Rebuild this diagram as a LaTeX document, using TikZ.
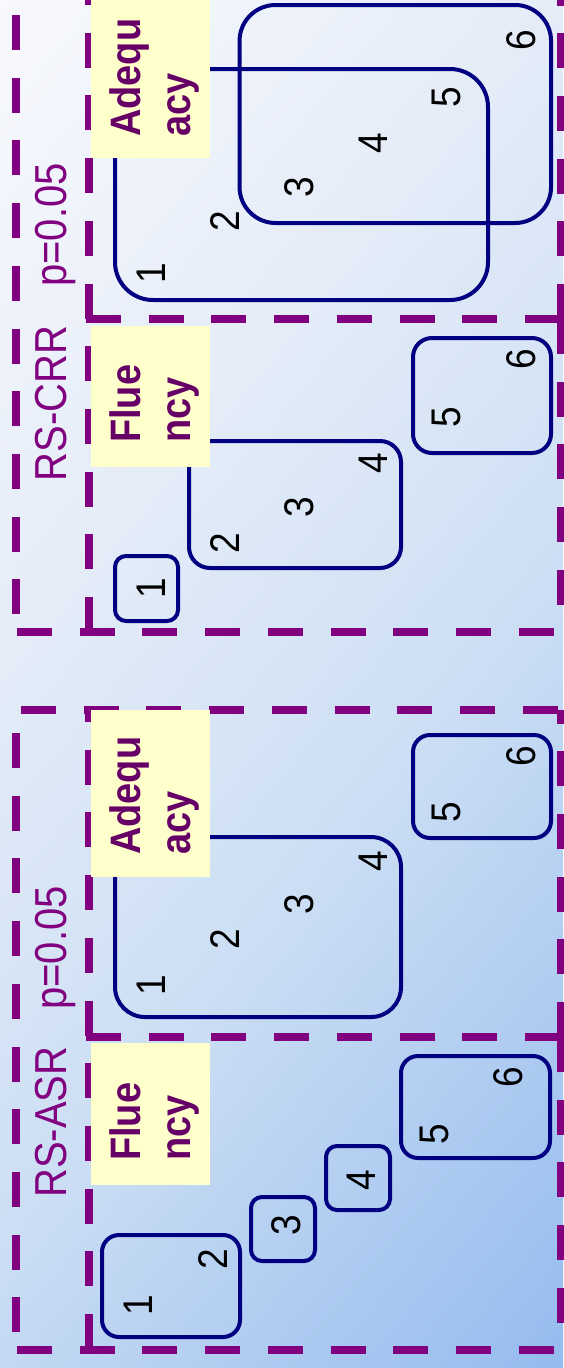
\documentclass[tikz,border=0pt]{standalone}
\usepackage{fontspec}
\setmainfont{Liberation Sans}
\definecolor{dpurple}{HTML}{800080}
\definecolor{tpurple}{HTML}{660066}
\definecolor{boxblue}{HTML}{000080}
\definecolor{ylw}{HTML}{FFFFCC}
\definecolor{bgA}{HTML}{F8F9FD}
\definecolor{bgB}{HTML}{E4ECF8}
\definecolor{bgC}{HTML}{CDDFF4}
\definecolor{bgD}{HTML}{94BBEE}
\pgfdeclarehorizontalshading{bgshade}{1600bp}{color(0bp)=(bgA); color(145bp)=(bgA); color(577bp)=(bgB); color(932bp)=(bgC); color(1455bp)=(bgD); color(1600bp)=(bgD)}
\begin{document}
\begin{tikzpicture}[x=1pt,y=-1pt,
  dline/.style={draw=dpurple, line width=7.5pt, dash pattern=on 35pt off 27.7pt},
  rbox/.style={draw=boxblue, line width=4pt, inner sep=0pt, rectangle},
  num/.style={font=\fontsize{37}{44}\selectfont, text=black, rotate=90, yscale=1.12, inner sep=0pt},
  grp/.style={font=\fontsize{40}{48}\selectfont, text=dpurple, rotate=90, yscale=1.12, inner sep=0pt, anchor=base},
  ybox/.style={fill=ylw, inner sep=0pt, minimum width=119.5pt},
  ytext/.style={font=\bfseries\fontsize{38}{44}\selectfont, text=tpurple, rotate=90, yscale=1.12, inner sep=0pt, align=left, anchor=base west}
]
\useasboundingbox (0,0) rectangle (563,1368);
\begin{scope}
\clip (0,0) rectangle (563,1368);
\node[inner sep=0pt, rotate=-40] (bg) at (281.5,684) {\pgfuseshading{bgshade}};
\end{scope}

% dashed frames, upper group (RS-CRR)
\draw[dline] (16,15) -- (16,632);
\draw[dline] (17,632) -- (561,632);
\draw[dline] (89,-30) -- (89,632);
\draw[dline] (86,319) -- (561,319);
\draw[dline] (561,319) -- (561,-40);
\draw[dline] (561,319) -- (561,632);

% dashed frames, lower group (RS-ASR)
\draw[dline] (21,710) -- (561,710);
\draw[dline] (16,733) -- (16,1350);
\draw[dline] (17,1350) -- (561,1350);
\draw[dline, dash phase=23pt] (89,710) -- (89,1350);
\draw[dline] (86,1037) -- (561,1037);
\draw[dline] (561,1037) -- (561,710);
\draw[dline] (561,1037) -- (561,1350);

% upper adequacy boxes
\node[rbox, minimum width=373pt, minimum height=231pt, rounded corners=38pt] (ua1) at (301.5,184.5) {};
\node[rbox, minimum width=311.5pt, minimum height=218pt, rounded corners=36pt] (ua2) at (395.3,114) {};
% upper fluency boxes
\node[rbox, minimum width=63pt, minimum height=65pt, rounded corners=11pt] (uf1) at (146.5,588.5) {};
\node[rbox, minimum width=212pt, minimum height=127pt, rounded corners=21pt] (uf2) at (295,504.5) {};
\node[rbox, minimum width=138pt, minimum height=115pt, rounded corners=19pt] (uf3) at (482,395.5) {};
% lower adequacy boxes
\node[rbox, minimum width=286pt, minimum height=180pt, rounded corners=30pt] (la1) at (258,927) {};
\node[rbox, minimum width=138pt, minimum height=103pt, rounded corners=17pt] (la2) at (482,786.5) {};
% lower fluency boxes
\node[rbox, minimum width=138pt, minimum height=102pt, rounded corners=17pt] (lf1) at (171,1286) {};
\node[rbox, minimum width=64pt, minimum height=64pt, rounded corners=11pt] (lf2) at (283,1229) {};
\node[rbox, minimum width=64pt, minimum height=64pt, rounded corners=11pt] (lf3) at (358,1178) {};
\node[rbox, minimum width=149pt, minimum height=102pt, rounded corners=17pt] (lf4) at (475.5,1107) {};

% yellow label boxes
\node[ybox, minimum height=163pt] (ya1) at (150.25,76.5) {};
\node[ybox, minimum height=141pt] (yf1) at (150.25,396.5) {};
\node[ybox, minimum height=167pt] (ya2) at (150.25,793.5) {};
\node[ybox, minimum height=142pt] (yf2) at (150.25,1114) {};
\node[ytext] (ta1) at (190,137) {Adequ\\acy};
\node[ytext] (tf1) at (190,443) {Flue\\ncy};
\node[ytext] (ta2) at (190,855) {Adequ\\acy};
\node[ytext] (tf2) at (190,1161) {Flue\\ncy};

% group labels
\node[grp] (g1) at (66,403.5) {RS-CRR};
\node[grp] (p1) at (66,225) {p=0.05};
\node[grp] (g2) at (66,1122) {RS-ASR};
\node[grp] (p2) at (66,948) {p=0.05};

% numbers, upper adequacy
\node[num] (ua-n1) at (151,273) {1};
\node[num] (ua-n2) at (225,221) {2};
\node[num] (ua-n3) at (299,187) {3};
\node[num] (ua-n4) at (373,143) {4};
\node[num] (ua-n5) at (446,97) {5};
\node[num] (ua-n6) at (521,40) {6};
% numbers, upper fluency
\node[num] (uf-n1) at (151,588) {1};
\node[num] (uf-n2) at (225,543) {2};
\node[num] (uf-n3) at (299,507) {3};
\node[num] (uf-n4) at (373,463) {4};
\node[num] (uf-n5) at (446,417) {5};
\node[num] (uf-n6) at (521,359) {6};
% numbers, lower adequacy
\node[num] (la-n1) at (151,985) {1};
\node[num] (la-n2) at (225,939) {2};
\node[num] (la-n3) at (299,904) {3};
\node[num] (la-n4) at (373,861) {4};
\node[num] (la-n5) at (446,812) {5};
\node[num] (la-n6) at (521,756) {6};
% numbers, lower fluency
\node[num] (lf-n1) at (138,1305) {1};
\node[num] (lf-n2) at (213,1259) {2};
\node[num] (lf-n3) at (286,1225) {3};
\node[num] (lf-n4) at (361,1180) {4};
\node[num] (lf-n5) at (434,1134) {5};
\node[num] (lf-n6) at (508,1077) {6};
\end{tikzpicture}
\end{document}
